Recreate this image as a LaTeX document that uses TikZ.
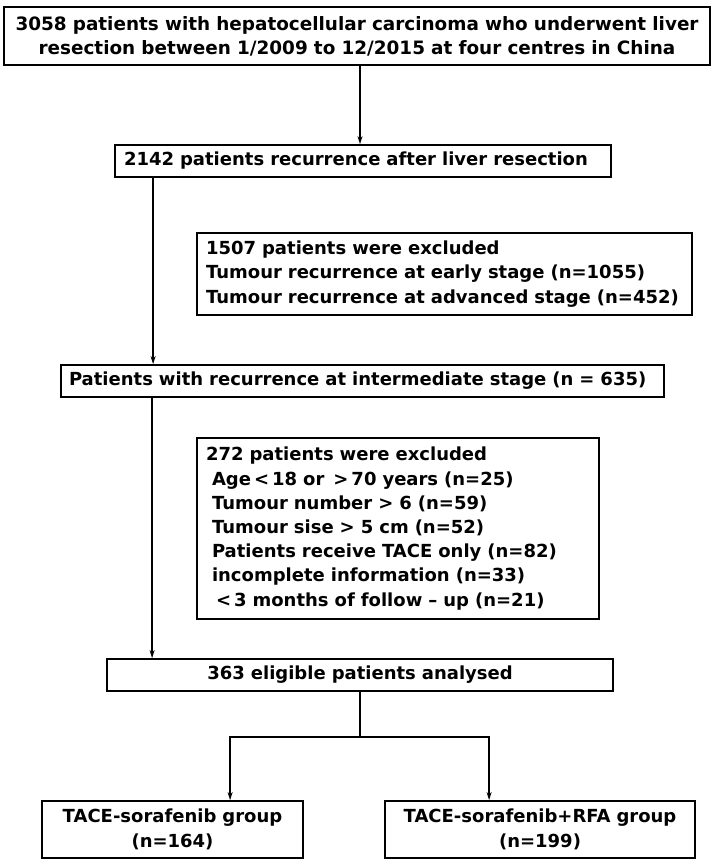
\documentclass[tikz,border=0pt]{standalone}
\usepackage{fontspec}
\setmainfont{DejaVu Sans}
\usetikzlibrary{arrows.meta}

\tikzset{
  caja/.style={draw, line width=1.8pt, inner xsep=9pt, inner ysep=0pt, font=\bfseries\fontsize{18}{24.5}\selectfont},
  flecha/.style={-{Stealth[length=8pt,width=5pt]}, line width=1.8pt},
}

\begin{document}
\begin{tikzpicture}[x=1pt,y=-1pt]
			\useasboundingbox (0,0) rectangle (714,865);

			% cajas
			\node[caja, text width=690pt, inner xsep=8pt, minimum height=58pt, align=center, font=\bfseries\fontsize{18.4}{24}\selectfont] (inicio) at (357,36) {3058 patients with hepatocellular carcinoma who underwent liver\\ resection between 1/2009 to 12/2015 at four centres in China};
			\node[caja, text width=478pt, minimum height=32pt, align=left] (recid) at (363,161) {2142 patients recurrence after liver resection};
			\node[caja, text width=477pt, minimum height=82pt, align=left] (excl1) at (444.5,274) {1507 patients were excluded\\ Tumour recurrence at early stage (n=1055)\\ Tumour recurrence at advanced stage (n=452)};
			\node[caja, text width=587pt, inner xsep=8pt, minimum height=32pt, align=left] (interm) at (362.5,381) {Patients with recurrence at intermediate stage (n = 635)};
			\node[caja, text width=384pt, minimum height=181pt, align=left, font=\bfseries\fontsize{18}{24.2}\selectfont] (excl2) at (398,528.5) {272 patients were excluded\\
			\hspace{6pt}Age\,<\,18 or \,>\,70 years (n=25)\\
			\hspace{6pt}Tumour number > 6 (n=59)\\
			\hspace{6pt}Tumour sise > 5 cm (n=52)\\
			\hspace{6pt}Patients receive TACE only (n=82)\\
			\hspace{6pt}incomplete information (n=33)\\
			\hspace{10pt}<\,3 months of follow -- up (n=21)};
			\node[caja, text width=488pt, minimum height=32pt, align=center] (final) at (360,675) {363 eligible patients analysed};
			\node[caja, text width=243pt, minimum height=57pt, align=center] (grupoA) at (172.5,829.5) {TACE-sorafenib group\\ (n=164)};
			\node[caja, text width=292pt, minimum height=57pt, align=center] (grupoB) at (540,829.5) {TACE-sorafenib+RFA group\\ (n=199)};

			% flechas
			\draw[flecha] ([xshift=3pt]inicio.south) -- ([xshift=3pt]inicio.south |- recid.north);
			\draw[flecha] ([xshift=39pt]recid.south west) -- ([xshift=39pt]recid.south west |- interm.north);
			\draw[flecha] ([xshift=92pt]interm.south west) -- ([xshift=92pt]interm.south west |- final.north);

			% division
			\coordinate (div) at ([yshift=-45pt]final.south);
			\draw[line width=1.8pt] (final.south) -- (div);
			\draw[flecha] (div) -| ([xshift=189pt]grupoA.north west);
			\draw[flecha] (div) -| ([xshift=105pt]grupoB.north west);

		    \end{tikzpicture}
\end{document}
